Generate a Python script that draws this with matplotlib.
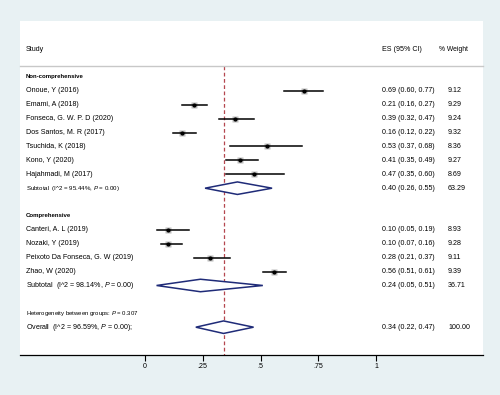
import matplotlib.pyplot as plt

plt.rcParams['font.family'] = ['Liberation Sans', 'DejaVu Sans']
plt.rcParams['mathtext.fontset'] = 'custom'
plt.rcParams['mathtext.rm'] = 'Liberation Sans'
plt.rcParams['mathtext.it'] = 'Liberation Sans:italic'

# study level data (group 1 = Non-comprehensive, group 2 = Comprehensive)
studies1 = ["Onoue, Y (2016)", "Emami, A (2018)", "Fonseca, G. W. P. D (2020)",
            "Dos Santos, M. R (2017)", "Tsuchida, K (2018)", "Kono, Y (2020)",
            "Hajahmadi, M (2017)"]
es1 = [0.69, 0.21, 0.39, 0.16, 0.53, 0.41, 0.47]
lo1 = [0.60, 0.16, 0.32, 0.12, 0.37, 0.35, 0.35]
hi1 = [0.77, 0.27, 0.47, 0.22, 0.68, 0.49, 0.60]
w1 = [9.12, 9.29, 9.24, 9.32, 8.36, 9.27, 8.69]

studies2 = ["Canteri, A. L (2019)", "Nozaki, Y (2019)",
            "Peixoto Da Fonseca, G. W (2019)", "Zhao, W (2020)"]
es2 = [0.10, 0.10, 0.28, 0.56]
lo2 = [0.05, 0.07, 0.21, 0.51]
hi2 = [0.19, 0.16, 0.37, 0.61]
w2 = [8.93, 9.28, 9.11, 9.39]

# subtotals / overall: es, lo, hi, weight
sub1 = [0.40, 0.26, 0.55, 63.29]
sub2 = [0.24, 0.05, 0.51, 36.71]
overall = [0.34, 0.22, 0.47, 100.00]

ticks = [0, 0.25, 0.5, 0.75, 1]
tick_labels = ["0", ".25", ".5", ".75", "1"]

navy = "#1f2b78"
fs = 5.15

fig = plt.figure(figsize=(5, 3.95), dpi=100, facecolor="#e8f1f3")
ax = fig.add_axes([0.04, 0.1013, 0.926, 0.8456])
ax.set_facecolor("white")
ax.set_xlim(-0.541, 1.463)
ax.set_ylim(20, -4.03)

x_lab = -0.515
x_es = 1.026
x_w = 1.312


def fmt(e, l, h):
    return "%.2f (%.2f, %.2f)" % (e, l, h)


def study_row(y, name, e, l, h, w):
    ax.plot([l, h], [y, y], color="black", lw=1.1, zorder=3)
    ax.plot(e, y, marker="s", ms=w * 0.45, color="#bdbdbd", mec="none", zorder=2)
    ax.plot(e, y, marker="o", ms=2.0, color="black", zorder=4)
    ax.text(x_lab, y, name, fontsize=fs, va="center")
    ax.text(x_es, y, fmt(e, l, h), fontsize=fs, va="center")
    ax.text(x_w, y, "%.2f" % w, fontsize=fs, va="center")


def diamond(y, e, l, h):
    ax.fill([l, e, h, e, l], [y, y - 0.45, y, y + 0.45, y], facecolor="white",
            edgecolor=navy, lw=1.1, zorder=3)


# header
ax.text(x_lab, -2, "Study", fontsize=fs, va="center")
ax.text(x_es, -2, "ES (95% CI)", fontsize=fs, va="center")
ax.text(1.273, -2, "% Weight", fontsize=4.9, va="center")
ax.plot([-0.541, 1.463], [-0.79, -0.79], color="#c8c8c8", lw=1, clip_on=False)

# group 1
ax.text(x_lab, 0, "Non-comprehensive", fontsize=4.3, fontweight="bold", va="center")
for i in range(len(studies1)):
    study_row(1 + i, studies1[i], es1[i], lo1[i], hi1[i], w1[i])
diamond(8, sub1[0], sub1[1], sub1[2])
ax.text(x_lab, 8, "Subtotal  (I^2 = 95.44%, $\\it{P}$ = 0.00)", fontsize=4.4, va="center")
ax.text(x_es, 8, fmt(*sub1[:3]), fontsize=fs, va="center")
ax.text(x_w, 8, "%.2f" % sub1[3], fontsize=fs, va="center")

# group 2
ax.text(x_lab, 10, "Comprehensive", fontsize=4.3, fontweight="bold", va="center")
for i in range(len(studies2)):
    study_row(11 + i, studies2[i], es2[i], lo2[i], hi2[i], w2[i])
diamond(15, sub2[0], sub2[1], sub2[2])
ax.text(x_lab, 15, "Subtotal  (I^2 = 98.14%, $\\it{P}$ = 0.00)", fontsize=fs, va="center")
ax.text(x_es, 15, fmt(*sub2[:3]), fontsize=fs, va="center")
ax.text(x_w, 15, "%.2f" % sub2[3], fontsize=fs, va="center")

# overall
ax.text(x_lab, 17, "Heterogeneity between groups: $\\it{P}$ = 0.307", fontsize=4.35, va="center")
diamond(18, overall[0], overall[1], overall[2])
ax.text(x_lab, 18, "Overall  (I^2 = 96.59%, $\\it{P}$ = 0.00);", fontsize=fs, va="center")
ax.text(x_es, 18, fmt(*overall[:3]), fontsize=fs, va="center")
ax.text(x_w, 18, "%.2f" % overall[3], fontsize=fs, va="center")

# reference line at overall estimate
ax.plot([overall[0], overall[0]], [-0.79, 20], color="#b5474f", lw=0.9,
        ls=(0, (3, 2)), zorder=1)

for s in ["top", "left", "right"]:
    ax.spines[s].set_visible(False)
ax.spines["bottom"].set_linewidth(0.9)
ax.set_yticks([])
ax.set_xticks(ticks)
ax.set_xticklabels(tick_labels)
ax.tick_params(axis="x", labelsize=fs, length=4, width=0.8, pad=2)

fig.savefig("out.png", dpi=100, facecolor=fig.get_facecolor())
